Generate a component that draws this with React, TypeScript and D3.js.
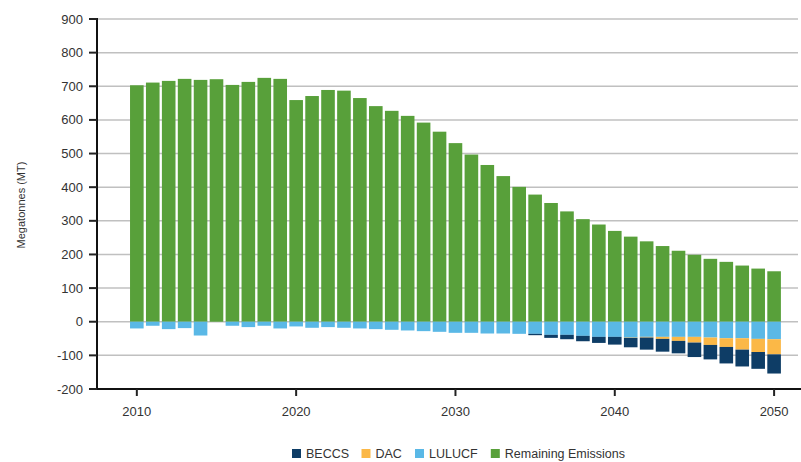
import React from "react";
import * as d3 from "d3";

const years: number[] = d3.range(2010, 2051);
const remaining: number[] = [
  703, 711, 716, 722, 719, 721, 704, 713, 725, 722,
  659, 671, 689, 687, 665, 641, 627, 612, 592, 565,
  531, 497, 466, 433, 401, 378, 353, 328, 305, 289,
  270, 253, 239, 225, 211, 199, 187, 178, 167, 158, 150,
];
const lulucf: number[] = [
  -20, -12, -22, -19, -41, 0, -12, -16, -12, -20,
  -14, -18, -16, -18, -20, -22, -24, -26, -28, -30,
  -33, -33, -35, -35, -36, -36, -39, -39, -42, -45,
  -45, -47, -45, -45, -45, -45, -47, -49, -49, -51, -52,
];
const dac: number[] = [
  0, 0, 0, 0, 0, 0, 0, 0, 0, 0,
  0, 0, 0, 0, 0, 0, 0, 0, 0, 0,
  0, 0, 0, 0, 0, 0, 0, 0, 0, 0,
  0, -1, -2, -6, -12, -17, -22, -26, -34, -39, -45,
];
const beccs: number[] = [
  0, 0, 0, 0, 0, 0, 0, 0, 0, 0,
  0, 0, 0, 0, 0, 0, 0, 0, 0, 0,
  0, 0, 0, 0, 0, -4, -9, -13, -16, -18,
  -23, -28, -36, -38, -37, -43, -43, -49, -50, -50, -57,
];
const yTicks: number[] = [-200, -100, 0, 100, 200, 300, 400, 500, 600, 700, 800, 900];
const xTicks: number[] = [2010, 2020, 2030, 2040, 2050];
const legendItems: string[] = ["BECCS", "DAC", "LULUCF", "Remaining Emissions"];

const colors: Record<string, string> = {
  BECCS: "#0e3d66",
  DAC: "#fbb847",
  LULUCF: "#5ab8e6",
  "Remaining Emissions": "#58a03a",
};

const W = 801;
const H = 462;
const left = 97;
const right = 798;
const top = 19;
const bottom = 389;

// approximate text widths at 12.5px Liberation Sans
const legendTextW: number[] = [42.5, 26.5, 48.8, 120];

export default function App() {
  const x = d3.scaleLinear().domain([2007.5, 2051.5]).range([left, right]);
  const y = d3.scaleLinear().domain([-200, 900]).range([bottom, top]);
  const bw = 13.6;
  const font = "'Liberation Sans', Arial, sans-serif";

  const bars: React.ReactElement[] = [];
  years.forEach((yr, i) => {
    const cx = x(yr);
    const x0 = cx - bw / 2;
    bars.push(
      <rect key={`g${i}`} x={x0} y={y(remaining[i])} width={bw} height={y(0) - y(remaining[i])} fill={colors["Remaining Emissions"]} />
    );
    let acc = 0;
    const negs: [string, number][] = [["LULUCF", lulucf[i]], ["DAC", dac[i]], ["BECCS", beccs[i]]];
    negs.forEach(([k, v]) => {
      if (v < 0) {
        const a = acc;
        const b = acc + v;
        bars.push(
          <rect key={`${k}${i}`} x={x0} y={y(a)} width={bw} height={y(b) - y(a)} fill={colors[k]} />
        );
        acc = b;
      }
    });
  });

  const legendXs: number[] = [];
  let lx = 292;
  legendItems.forEach((_, i) => {
    legendXs.push(lx);
    lx += 9 + 5 + legendTextW[i] + 13;
  });

  return (
    <svg width={W} height={H} style={{ position: "absolute", left: 0, top: 0, background: "#fff" }}>
      {yTicks.filter((t) => t > -200).map((t) => (
        <line key={`gl${t}`} x1={left} x2={right} y1={y(t)} y2={y(t)} stroke="#c0c0c0" strokeWidth={1.5} />
      ))}
      {bars}
      <line x1={left} x2={left} y1={top - 1} y2={bottom + 1} stroke="#111" strokeWidth={2} />
      <line x1={left - 1} x2={W} y1={bottom} y2={bottom} stroke="#111" strokeWidth={2} />
      {yTicks.map((t) => (
        <g key={`yt${t}`}>
          <line x1={left - 8} x2={left} y1={y(t)} y2={y(t)} stroke="#222" strokeWidth={2} />
          <text x={83} y={y(t)} dy="0.35em" textAnchor="end" fontFamily={font} fontSize={13} fill="#333">
            {t}
          </text>
        </g>
      ))}
      {xTicks.map((t) => (
        <g key={`xt${t}`}>
          <line x1={x(t)} x2={x(t)} y1={bottom} y2={bottom + 7} stroke="#222" strokeWidth={2} />
          <text x={x(t)} y={416} textAnchor="middle" fontFamily={font} fontSize={13} fill="#333">
            {t}
          </text>
        </g>
      ))}
      <text
        transform={`translate(25,205) rotate(-90)`}
        textAnchor="middle"
        fontFamily={font}
        fontSize={11}
        fill="#333"
      >
        Megatonnes (MT)
      </text>
      {legendItems.map((k, i) => (
        <g key={`lg${k}`}>
          <rect x={legendXs[i]} y={449} width={9} height={9} fill={colors[k]} />
          <text x={legendXs[i] + 14} y={458} fontFamily={font} fontSize={12.5} fill="#333">
            {k}
          </text>
        </g>
      ))}
    </svg>
  );
}
